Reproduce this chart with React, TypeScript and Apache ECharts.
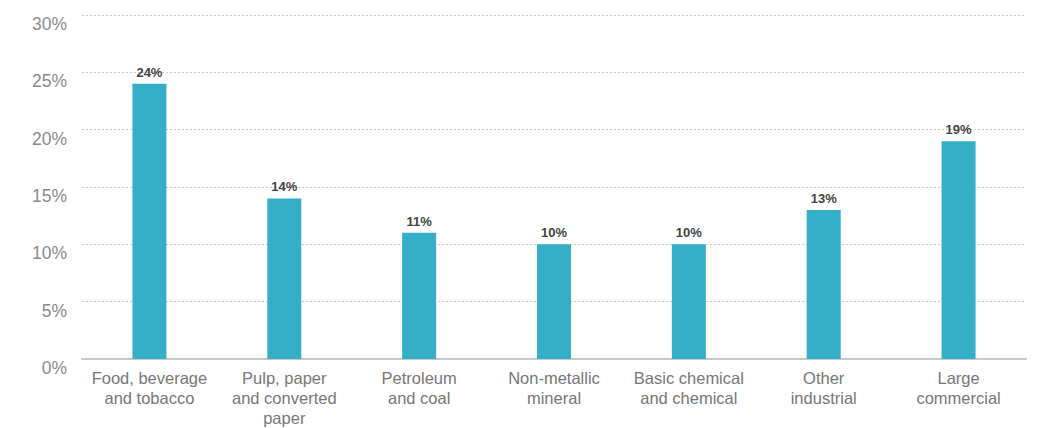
import React, { useEffect, useRef } from "react";
import * as echarts from "echarts";

const categories = [
  "Food, beverage\nand tobacco",
  "Pulp, paper\nand converted\npaper",
  "Petroleum\nand coal",
  "Non-metallic\nmineral",
  "Basic chemical\nand chemical",
  "Other\nindustrial",
  "Large\ncommercial",
];
const values = [24, 14, 11, 10, 10, 13, 19];

export default function App() {
  const ref = useRef<HTMLDivElement>(null);
  useEffect(() => {
    document.body.style.margin = "0";
    const chart = echarts.init(ref.current!, null, { renderer: "svg" });
    chart.setOption({
      animation: false,
      textStyle: { fontFamily: "Liberation Sans, Arial, sans-serif" },
      grid: { left: 82, right: 17, top: 15, bottom: 69, outerBoundsMode: "none", containLabel: false },
      xAxis: {
        type: "category",
        data: categories,
        axisLine: { lineStyle: { color: "#c6c8cc", width: 2 } },
        axisTick: { show: false },
        axisLabel: {
          color: "#777",
          fontSize: 16.5,
          lineHeight: 20,
          margin: 9,
          interval: 0,
        },
      },
      yAxis: {
        type: "value",
        min: 0,
        max: 30,
        interval: 5,
        axisLine: { show: false },
        axisTick: { show: false },
        axisLabel: {
          color: "#8a8a8a",
          fontSize: 17.5,
          margin: 15,
          verticalAlign: "top",
          formatter: (v: number) => v + "%",
        },
        splitLine: { lineStyle: { color: "#c8c8c8", type: [2, 2], width: 1 } },
      },
      series: [
        {
          type: "bar",
          data: values,
          barWidth: 34,
          itemStyle: { color: "#35afc8" },
          label: {
            show: true,
            position: "top",
            distance: 5,
            color: "#444",
            fontSize: 13,
            fontWeight: "bold",
            formatter: (p: any) => p.value + "%",
          },
        },
      ],
    });
    return () => chart.dispose();
  }, []);
  return <div ref={ref} style={{ width: 1043, height: 428 }} />;
}
